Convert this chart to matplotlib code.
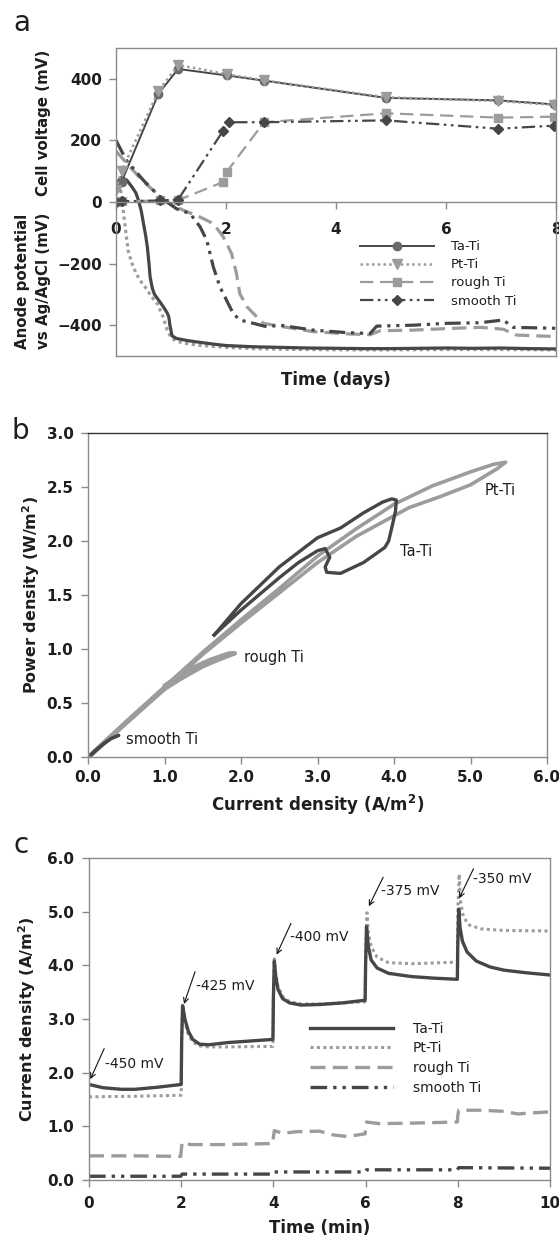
import numpy as np
from matplotlib import pyplot as plt

plt.rcParams['font.family'] = ['DejaVu Sans']

# ---- panel a: cell voltage (markers) ----
dias_celda = [0.0, 0.1, 0.77, 1.13, 2.01, 2.69, 4.91, 6.95, 7.97]
celda_tati = [49, 65, 351, 432, 411, 394, 338, 330, 317]
celda_ptti = [40, 100, 360, 445, 415, 395, 340, 328, 315]
dias_rough = [0.0, 0.1, 0.8, 1.13, 1.95, 2.01, 2.69, 4.91, 6.95, 7.97]
celda_rough = [0, 2, 5, 6, 65, 97, 259, 288, 274, 277]
dias_smooth = [0.0, 0.1, 0.8, 1.13, 1.95, 2.05, 2.69, 4.91, 6.95, 7.97]
celda_smooth = [0, 2, 5, 8, 232, 259, 259, 265, 238, 248]

# ---- panel a: anode potential (lines) ----
dias_an_tati = [0.05, 0.1, 0.2, 0.29, 0.36, 0.41, 0.46, 0.5, 0.54, 0.57, 0.6, 0.62, 0.66,
                0.7, 0.74, 0.8, 0.86, 0.93, 0.96, 0.98, 1.02, 1.1, 1.3, 1.5, 1.8, 2.0,
                2.5, 3.0, 3.5, 4.0, 4.5, 5.0, 5.5, 6.0, 6.5, 7.0, 7.5, 8.0]
an_tati = [70, 81, 70, 49, 30, 5, -30, -70, -110, -146, -200, -243, -280,
           -300, -310, -325, -340, -360, -373, -400, -435, -443, -450, -455, -462, -466,
           -470, -472, -474, -475, -476, -476, -475, -474, -475, -474, -476, -477]
dias_an_ptti = [0.05, 0.08, 0.1, 0.13, 0.16, 0.19, 0.22, 0.28, 0.34, 0.42, 0.53, 0.65,
                0.75, 0.85, 0.92, 1.0, 1.1, 1.3, 1.5, 2.0, 2.5, 3.0, 4.0, 5.0, 6.0, 7.0, 8.0]
an_ptti = [60, 45, 20, -25, -70, -115, -157, -195, -221, -250, -276, -308,
           -330, -370, -410, -440, -452, -460, -465, -472, -476, -478, -480, -480, -479, -479, -480]
dias_an_rough = [0.0, 0.2, 0.4, 0.6, 0.92, 1.2, 1.53, 1.77, 1.95, 2.1, 2.19, 2.25, 2.38,
                 2.56, 2.68, 3.04, 3.59, 4.19, 4.62, 4.8, 5.4, 6.01, 6.62, 7.04, 7.28, 8.0]
an_rough = [165, 125, 85, 50, 0, -25, -49, -70, -113, -167, -232, -297, -340,
            -373, -394, -405, -421, -428, -431, -418, -416, -411, -407, -413, -432, -437]
dias_an_smooth = [0.0, 0.19, 0.5, 0.8, 1.1, 1.35, 1.53, 1.65, 1.77, 1.89, 2.01, 2.13, 2.25,
                  2.5, 2.74, 2.98, 3.59, 4.19, 4.62, 4.74, 5.4, 6.01, 6.62, 7.04, 7.22, 8.0]
an_smooth = [200, 135, 70, 16, -22, -38, -81, -124, -211, -276, -319, -362, -383,
             -394, -405, -400, -416, -424, -427, -403, -400, -394, -392, -383, -407, -410]

# ---- panel b: power curves (current, power) ----
jb_tati = [1.65, 2.0, 2.5, 3.0, 3.3, 3.6, 3.85, 3.97, 4.03, 4.02, 3.98, 3.93, 3.88, 3.6,
           3.3, 3.12, 3.1, 3.16, 3.1, 3.0, 2.75, 2.5, 2.0, 1.65]
pb_tati = [1.13, 1.42, 1.76, 2.03, 2.12, 2.26, 2.36, 2.39, 2.38, 2.28, 2.15, 2.0, 1.94, 1.80,
           1.70, 1.71, 1.76, 1.85, 1.93, 1.91, 1.80, 1.66, 1.36, 1.13]
jb_ptti = [0.0, 0.5, 1.0, 1.5, 2.0, 2.5, 3.0, 3.5, 4.0, 4.5, 5.0, 5.3, 5.46,
           5.35, 5.0, 4.6, 4.2, 3.5, 3.0, 2.5, 2.0, 1.5, 1.0, 0.5, 0.05]
pb_ptti = [0.0, 0.33, 0.65, 0.97, 1.27, 1.56, 1.86, 2.11, 2.34, 2.51, 2.64, 2.71, 2.73,
           2.67, 2.52, 2.41, 2.31, 2.04, 1.80, 1.52, 1.24, 0.95, 0.63, 0.31, 0.02]
jb_rough = [0.05, 0.5, 1.0, 1.2, 1.5, 1.7, 1.88, 1.92, 1.85, 1.6, 1.35, 1.15, 1.0]
pb_rough = [0.03, 0.32, 0.63, 0.72, 0.84, 0.90, 0.95, 0.96, 0.96, 0.90, 0.82, 0.73, 0.66]
jb_smooth = [0.04, 0.1, 0.2, 0.3, 0.4]
pb_smooth = [0.02, 0.06, 0.12, 0.17, 0.2]

# ---- panel c: current vs time ----
tc_tati = [0, 0.3, 0.7, 1.0, 1.5, 2.0, 2.01, 2.03, 2.08, 2.15, 2.25, 2.4, 2.6, 3.0, 3.5, 3.99,
           4.0, 4.02, 4.05, 4.1, 4.2, 4.35, 4.6, 5.0, 5.5, 5.99, 6.0, 6.02, 6.06, 6.12, 6.25,
           6.5, 7.0, 7.5, 7.99, 8.0, 8.02, 8.05, 8.1, 8.2, 8.4, 8.7, 9.0, 9.5, 10.0]
jc_tati = [1.78, 1.72, 1.69, 1.69, 1.73, 1.78, 2.6, 3.25, 3.0, 2.78, 2.62, 2.53, 2.52, 2.56, 2.59, 2.62,
           3.4, 4.08, 3.8, 3.55, 3.38, 3.30, 3.26, 3.27, 3.30, 3.35, 4.0, 4.72, 4.35, 4.1, 3.95,
           3.85, 3.79, 3.76, 3.74, 4.4, 5.05, 4.7, 4.45, 4.25, 4.08, 3.97, 3.91, 3.86, 3.82]
tc_ptti = [0, 1, 2.0, 2.01, 2.03, 2.08, 2.15, 2.25, 2.4, 2.6, 3, 3.99, 4.0, 4.02, 4.05, 4.1, 4.2,
           4.35, 4.6, 5, 5.99, 6.0, 6.03, 6.06, 6.12, 6.25, 6.5, 7, 7.99, 8.0, 8.03, 8.06, 8.12,
           8.25, 8.5, 9, 10]
jc_ptti = [1.55, 1.56, 1.58, 2.6, 3.22, 2.95, 2.72, 2.57, 2.50, 2.48, 2.48, 2.49, 3.4, 4.12, 3.85, 3.6, 3.42,
           3.32, 3.28, 3.28, 3.32, 4.2, 4.98, 4.6, 4.35, 4.15, 4.05, 4.03, 4.06, 5.0, 5.7, 5.2, 4.9,
           4.75, 4.68, 4.65, 4.64]
tc_rough = [0, 1, 1.99, 2.0, 2.02, 2.2, 3, 3.99, 4.0, 4.02, 4.2, 4.5, 5.0, 5.3, 5.6, 5.99, 6.0,
            6.02, 6.3, 7, 7.99, 8.0, 8.02, 8.5, 9.0, 9.3, 9.6, 10]
jc_rough = [0.45, 0.45, 0.44, 0.55, 0.70, 0.66, 0.66, 0.68, 0.8, 0.92, 0.87, 0.90, 0.91, 0.84, 0.81, 0.86, 0.95,
            1.08, 1.05, 1.06, 1.08, 1.2, 1.30, 1.30, 1.28, 1.23, 1.25, 1.27]
tc_smooth = [0, 1.99, 2.02, 3.99, 4.02, 5.99, 6.02, 7.99, 8.02, 10]
jc_smooth = [0.07, 0.07, 0.11, 0.11, 0.15, 0.15, 0.19, 0.19, 0.23, 0.22]

etiquetas_mv = ['-450 mV', '-425 mV', '-400 mV', '-375 mV', '-350 mV']
texto_mv = [(0.35, 2.17), (2.32, 3.62), (4.35, 4.53), (6.33, 5.38), (8.34, 5.6)]
flecha_cola = [(0.33, 2.45), (2.30, 3.88), (4.38, 4.78), (6.38, 5.64), (8.34, 5.8)]
flecha_punta = [(0.03, 1.88), (2.06, 3.28), (4.07, 4.2), (6.07, 5.1), (8.03, 5.25)]

nombres = ['Ta-Ti', 'Pt-Ti', 'rough Ti', 'smooth Ti']

# ---- styles ----
OSC = '#464646'
CLA = '#9c9c9c'
MARCO = '#8a8a8a'
TXT = '#1e1e1e'
ls_dot = (0, (1, 1.1))
ls_dash = (0, (4.5, 2.2))
ls_dd = (0, (5, 1.8, 1, 1.8, 1, 1.8))
TICK_FS = 11
LAB_FS = 12
YLAB_FS = 11.5

W, H = 559, 1235


def caja(l, t, r, b):
    return [l / W, 1 - b / H, (r - l) / W, (b - t) / H]


def fx(x):
    return x / W


def fy(y):
    return 1 - y / H


def marco(ax):
    for s in ax.spines.values():
        s.set_color(MARCO)
        s.set_linewidth(1.0)
    ax.tick_params(colors=MARCO, labelcolor=TXT, length=5, width=1, direction='out')
    for t in ax.get_xticklabels() + ax.get_yticklabels():
        t.set_fontweight('bold')
        t.set_fontsize(TICK_FS)


fig = plt.figure(figsize=(W / 100, H / 100), dpi=100)

# ================= a =================
ax = fig.add_axes(caja(116, 48, 556, 356))
ax.plot(dias_an_ptti, an_ptti, color=CLA, lw=2.3, ls=ls_dot)
ax.plot(dias_an_tati, an_tati, color=OSC, lw=2.3)
ax.plot(dias_an_rough, an_rough, color=CLA, lw=2.3, ls=ls_dash)
ax.plot(dias_an_smooth, an_smooth, color=OSC, lw=2.3, ls=ls_dd)

h1, = ax.plot(dias_celda, celda_tati, color=OSC, lw=1.4, marker='o', ms=6,
              mfc='#6a6a6a', mec='#6a6a6a')
h2, = ax.plot(dias_celda, celda_ptti, color=CLA, lw=1.8, ls=(0, (1, 1.3)), marker='v', ms=6.5,
              mfc=CLA, mec=CLA)
h3, = ax.plot(dias_rough, celda_rough, color=CLA, lw=1.6, ls=(0, (6, 3)), marker='s', ms=5.5,
              mfc=CLA, mec=CLA)
h4, = ax.plot(dias_smooth, celda_smooth, color=OSC, lw=1.6, ls=(0, (6, 2, 1.2, 2, 1.2, 2)),
              marker='D', ms=5, mfc=OSC, mec=OSC)

ax.set_xlim(0, 8)
ax.set_ylim(-500, 500)
ax.set_xticks([0, 2, 4, 6, 8])
ax.set_yticks([-400, -200, 0, 200, 400])
ax.spines['bottom'].set_position(('data', 0))
marco(ax)
ax.tick_params(axis='x', pad=9.5)
ax.tick_params(axis='y', pad=5)
ax.plot([0, 1], [0, 0], transform=ax.transAxes, color=MARCO, lw=1.0, clip_on=False)
leg = ax.legend([h1, h2, h3, h4], nombres, loc='upper left', bbox_to_anchor=(0.5545, 0.376),
                frameon=False, fontsize=9.5, handlelength=5.6, handletextpad=1.3,
                labelspacing=0.39, borderpad=0, borderaxespad=0)
for t in leg.get_texts():
    t.set_color(TXT)

fig.text(fx(336), fy(380), 'Time (days)', ha='center', va='center', fontsize=LAB_FS,
         fontweight='bold', color=TXT)
fig.text(fx(43.5), fy(123), 'Cell voltage (mV)', ha='center', va='center', rotation=90,
         fontsize=10.8, fontweight='bold', color=TXT)
fig.text(fx(43.5), fy(281), 'vs Ag/AgCl (mV)', ha='center', va='center', rotation=90,
         fontsize=10.8, fontweight='bold', color=TXT)
fig.text(fx(22.5), fy(281), 'Anode potential', ha='center', va='center', rotation=90,
         fontsize=10.8, fontweight='bold', color=TXT)
fig.text(fx(22), fy(31), 'a', ha='center', va='baseline', fontsize=20, color=TXT)

# ================= b =================
ax = fig.add_axes(caja(88, 433, 547, 757))
ax.plot(jb_ptti, pb_ptti, color=CLA, lw=2.6, solid_joinstyle='round')
ax.plot(jb_tati, pb_tati, color=OSC, lw=2.4, solid_joinstyle='round')
ax.plot(jb_rough, pb_rough, color=CLA, lw=3.2, solid_capstyle='round')
ax.plot(jb_smooth, pb_smooth, color=OSC, lw=2.6, solid_capstyle='round')
ax.set_xlim(0, 6)
ax.set_ylim(0, 3)
ax.set_xticks(np.arange(0, 6.01, 1.0))
ax.set_yticks(np.arange(0, 3.01, 0.5))
ax.set_xticklabels(['%.1f' % v for v in np.arange(0, 6.01, 1.0)])
ax.set_yticklabels(['%.1f' % v for v in np.arange(0, 3.01, 0.5)])
marco(ax)
ax.spines['top'].set_color('#333333')
ax.tick_params(axis='x', pad=4.5)
ax.tick_params(axis='y', pad=5.5)
ax.text(5.19, 2.47, 'Pt-Ti', fontsize=10.5, va='center', color=TXT)
ax.text(4.08, 1.90, 'Ta-Ti', fontsize=10.5, va='center', color=TXT)
ax.text(2.04, 0.92, 'rough Ti', fontsize=10.5, va='center', color=TXT)
ax.text(0.5, 0.16, 'smooth Ti', fontsize=10.5, va='center', color=TXT)
fig.text(fx(317.5), fy(805), 'Current density (A/m$^\\mathbf{2}$)', ha='center', va='center',
         fontsize=LAB_FS, fontweight='bold', color=TXT)
fig.text(fx(31), fy(595), 'Power density (W/m$^\\mathbf{2}$)', ha='center', va='center',
         rotation=90, fontsize=YLAB_FS, fontweight='bold', color=TXT)
fig.text(fx(20), fy(439), 'b', ha='center', va='baseline', fontsize=20, color=TXT)

# ================= c =================
ax = fig.add_axes(caja(89, 858, 550, 1180))
ax.plot(tc_ptti, jc_ptti, color=CLA, lw=2.2, ls=ls_dot, label='Pt-Ti')
ax.plot(tc_tati, jc_tati, color=OSC, lw=2.4, label='Ta-Ti')
ax.plot(tc_rough, jc_rough, color=CLA, lw=2.4, ls=ls_dash, label='rough Ti')
ax.plot(tc_smooth, jc_smooth, color=OSC, lw=2.4, ls=ls_dd, label='smooth Ti')
ax.set_xlim(0, 10)
ax.set_ylim(0, 6)
ax.set_xticks([0, 2, 4, 6, 8, 10])
ax.set_yticks(np.arange(0, 6.01, 1.0))
ax.set_yticklabels(['%.1f' % v for v in np.arange(0, 6.01, 1.0)])
marco(ax)
ax.tick_params(axis='x', pad=6.3)
ax.tick_params(axis='y', pad=5.5)
for et, pt, cola, punta in zip(etiquetas_mv, texto_mv, flecha_cola, flecha_punta):
    ax.annotate('', xy=punta, xytext=cola,
                arrowprops=dict(arrowstyle='->', lw=0.8, color='#111111',
                                shrinkA=0, shrinkB=0, mutation_scale=9))
    ax.text(pt[0], pt[1], et, fontsize=10, va='center', color=TXT)
hs, ls_ = ax.get_legend_handles_labels()
orden = [ls_.index(n) for n in nombres]
leg = ax.legend([hs[i] for i in orden], nombres, loc='upper left',
                bbox_to_anchor=(0.479, 0.492), frameon=False, fontsize=10,
                handlelength=6.0, handletextpad=1.4, labelspacing=0.41,
                borderpad=0, borderaxespad=0)
for t in leg.get_texts():
    t.set_color(TXT)
fig.text(fx(319.5), fy(1228), 'Time (min)', ha='center', va='center', fontsize=LAB_FS,
         fontweight='bold', color=TXT)
fig.text(fx(27), fy(1019), 'Current density (A/m$^\\mathbf{2}$)', ha='center', va='center',
         rotation=90, fontsize=YLAB_FS, fontweight='bold', color=TXT)
fig.text(fx(21), fy(853), 'c', ha='center', va='baseline', fontsize=20, color=TXT)

fig.savefig('out.png', dpi=100)
